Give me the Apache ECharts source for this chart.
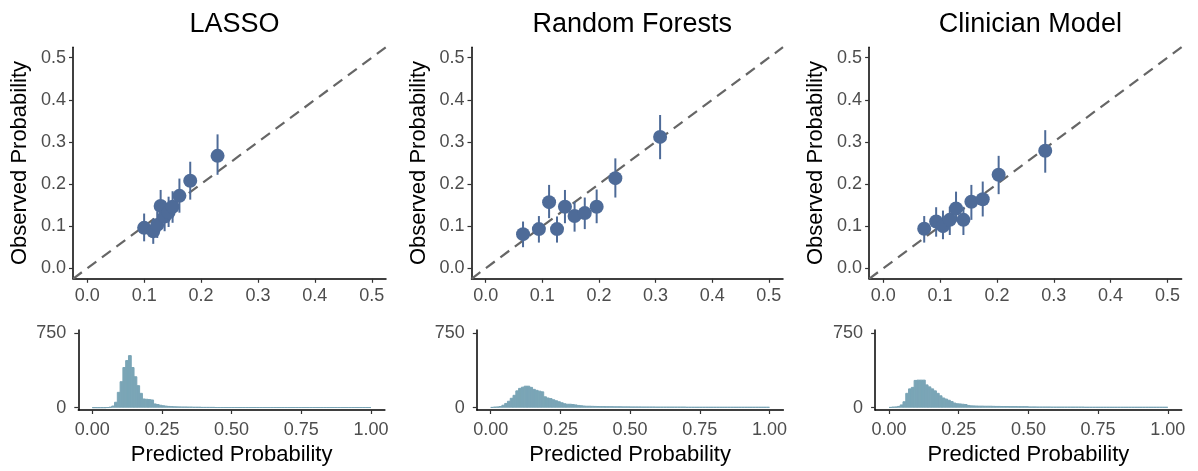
<!DOCTYPE html>
<html>
<head>
<meta charset="utf-8">
<script src="https://cdn.jsdelivr.net/npm/echarts@6/dist/echarts.min.js"></script>
<style>
html,body{margin:0;padding:0;background:#fff;}
#chart{width:1198px;height:471px;}
</style>
</head>
<body>
<div id="chart"></div>
<script>
// ---------- DATA ----------
const modelNames = ['LASSO', 'Random Forests', 'Clinician Model'];

// Calibration points (predicted, observed, CI low, CI high)
const lassoPred = [0.100, 0.116, 0.123, 0.129, 0.136, 0.143, 0.150, 0.162, 0.181, 0.229];
const lassoObs  = [0.096, 0.088, 0.103, 0.148, 0.123, 0.133, 0.146, 0.172, 0.208, 0.267];
const lassoLo   = [0.064, 0.058, 0.072, 0.110, 0.088, 0.098, 0.108, 0.132, 0.163, 0.222];
const lassoHi   = [0.130, 0.118, 0.135, 0.186, 0.160, 0.170, 0.183, 0.213, 0.253, 0.318];

const rfPred = [0.066, 0.094, 0.112, 0.126, 0.140, 0.157, 0.175, 0.196, 0.229, 0.308];
const rfObs  = [0.081, 0.093, 0.157, 0.093, 0.146, 0.124, 0.131, 0.146, 0.214, 0.312];
const rfLo   = [0.050, 0.061, 0.119, 0.061, 0.107, 0.087, 0.093, 0.107, 0.168, 0.259];
const rfHi   = [0.111, 0.124, 0.198, 0.123, 0.186, 0.158, 0.168, 0.187, 0.261, 0.364];

const clinPred = [0.072, 0.093, 0.105, 0.117, 0.128, 0.141, 0.155, 0.175, 0.203, 0.285];
const clinObs  = [0.094, 0.111, 0.100, 0.115, 0.142, 0.115, 0.158, 0.164, 0.222, 0.279];
const clinLo   = [0.061, 0.075, 0.069, 0.079, 0.111, 0.079, 0.115, 0.123, 0.176, 0.227];
const clinHi   = [0.124, 0.145, 0.137, 0.146, 0.182, 0.146, 0.198, 0.206, 0.267, 0.328];

// Histogram of predicted probabilities: 100 bins of width 0.01 on [0, 1]
const binWidth = 0.01;
const lassoCounts = [
  6, 6, 6, 6, 6, 7, 9, 22, 60, 160,
  267, 410, 480, 530, 410, 317, 227, 150, 93, 90,
  87, 83, 43, 37, 30, 25, 21, 18, 16, 14,
  13, 12, 11, 11, 10, 10, 9, 9, 9, 8,
  8, 8, 8, 8, 7, 7, 7, 7, 7, 7,
  7, 7, 7, 7, 7, 7, 7, 7, 7, 7,
  7, 7, 7, 7, 7, 7, 7, 7, 7, 7,
  7, 7, 7, 7, 7, 7, 7, 7, 7, 7,
  7, 7, 7, 7, 7, 7, 7, 7, 7, 7,
  7, 7, 7, 7, 7, 7, 7, 7, 7, 7
];
const rfCounts = [
  8, 10, 12, 17, 30, 48, 70, 100, 130, 175,
  200, 212, 222, 222, 210, 190, 180, 172, 165, 115,
  103, 97, 85, 75, 65, 55, 45, 40, 40, 37,
  33, 28, 25, 22, 20, 20, 19, 18, 17, 16,
  16, 15, 15, 15, 14, 14, 14, 13, 13, 13,
  12, 12, 12, 12, 11, 11, 11, 11, 11, 10,
  10, 10, 10, 10, 10, 10, 10, 10, 10, 10,
  9, 9, 9, 9, 9, 9, 9, 9, 9, 9,
  9, 9, 9, 9, 9, 9, 9, 9, 9, 9,
  9, 9, 9, 9, 9, 9, 9, 9, 9, 9
];
const clinCounts = [
  8, 10, 12, 18, 33, 65, 150, 195, 210, 280,
  283, 283, 283, 235, 215, 195, 175, 150, 125, 103,
  92, 80, 67, 52, 45, 43, 40, 37, 28, 24,
  23, 22, 21, 21, 20, 20, 20, 19, 18, 18,
  17, 17, 17, 16, 16, 16, 15, 15, 15, 15,
  12, 12, 12, 11, 11, 11, 11, 11, 10, 10,
  10, 10, 10, 10, 10, 10, 10, 10, 10, 10,
  9, 9, 9, 9, 9, 9, 9, 9, 9, 9,
  9, 9, 9, 9, 9, 9, 9, 9, 9, 9,
  9, 9, 9, 9, 9, 9, 9, 9, 9, 9
];

const scatterTicks = [0, 0.1, 0.2, 0.3, 0.4, 0.5];
const histXTicks = [0, 0.25, 0.5, 0.75, 1.0];
const histYTicks = [0, 750];

// ---------- STYLE / LAYOUT ----------
const FONT = 'Liberation Sans, Arial, Helvetica, sans-serif';
const pointColor = '#4E6B98';
const histColor = '#7AA5B6';
const tickText = '#4D4D4D';

const scatterGrids = [
  {left: 73, top: 47.2, width: 313, height: 231.6},
  {left: 471.5, top: 47.2, width: 311.5, height: 231.6},
  {left: 869.1, top: 47.2, width: 312.5, height: 231.6}
];
const histGrids = [
  {left: 78.3, top: 330, width: 306.6, height: 80},
  {left: 476.8, top: 330, width: 306.6, height: 80},
  {left: 875.1, top: 330, width: 306.6, height: 80}
];

const models = [
  {pred: lassoPred, obs: lassoObs, lo: lassoLo, hi: lassoHi, counts: lassoCounts},
  {pred: rfPred, obs: rfObs, lo: rfLo, hi: rfHi, counts: rfCounts},
  {pred: clinPred, obs: clinObs, lo: clinLo, hi: clinHi, counts: clinCounts}
];

const grid = [], xAxis = [], yAxis = [], series = [], title = [];

function axisBase() {
  return {
    axisLine: {show: true, onZero: false, lineStyle: {color: '#000', width: 1.5}},
    axisTick: {show: true, length: 4, lineStyle: {color: '#333', width: 1.2}},
    splitLine: {show: false},
    axisLabel: {color: tickText, fontSize: 18, fontFamily: FONT}
  };
}

models.forEach((m, i) => {
  const gS = i * 2, gH = i * 2 + 1;
  grid.push(Object.assign({containLabel: false}, scatterGrids[i]));
  grid.push(Object.assign({containLabel: false}, histGrids[i]));

  const sg = scatterGrids[i];
  title.push({
    text: modelNames[i], left: sg.left + sg.width / 2, top: 6, textAlign: 'center',
    textStyle: {fontSize: 27, fontWeight: 'normal', color: '#000', fontFamily: FONT}
  });

  // scatter x
  const sx = axisBase();
  Object.assign(sx, {type: 'value', gridIndex: gS, min: -0.025, max: 0.525});
  sx.axisTick.customValues = scatterTicks;
  sx.axisLabel.customValues = scatterTicks;
  sx.axisLabel.margin = 8;
  sx.axisLabel.formatter = v => v.toFixed(1);
  xAxis.push(sx);
  // hist x
  const hx = axisBase();
  Object.assign(hx, {type: 'value', gridIndex: gH, min: -0.05, max: 1.05,
    name: 'Predicted Probability', nameLocation: 'middle', nameGap: 34,
    nameTextStyle: {fontSize: 22, color: '#000', fontFamily: FONT}});
  hx.axisTick.customValues = histXTicks;
  hx.axisLabel.customValues = histXTicks;
  hx.axisLabel.margin = 11;
  hx.axisLabel.formatter = v => v.toFixed(2);
  xAxis.push(hx);

  // scatter y
  const sy = axisBase();
  Object.assign(sy, {type: 'value', gridIndex: gS, min: -0.025, max: 0.525,
    name: 'Observed Probability', nameLocation: 'middle', nameGap: 42, nameRotate: 90,
    nameTextStyle: {fontSize: 22, color: '#000', fontFamily: FONT}});
  sy.axisTick.customValues = scatterTicks;
  sy.axisLabel.customValues = scatterTicks;
  sy.axisLabel.margin = 7;
  sy.axisLabel.formatter = v => v.toFixed(1);
  yAxis.push(sy);
  // hist y
  const hy = axisBase();
  Object.assign(hy, {type: 'value', gridIndex: gH, min: -23, max: 783});
  hy.axisTick.customValues = histYTicks;
  hy.axisLabel.customValues = histYTicks;
  hy.axisLabel.margin = 12;
  hy.axisLabel.formatter = v => String(Math.round(v));
  yAxis.push(hy);

  // reference diagonal
  series.push({
    type: 'line', xAxisIndex: gS, yAxisIndex: gS, symbol: 'none', silent: true,
    data: [[-0.025, -0.025], [0.525, 0.525]],
    lineStyle: {color: '#666', width: 2.2, type: [11, 7]}, z: 1
  });
  // error bars
  series.push({
    type: 'custom', xAxisIndex: gS, yAxisIndex: gS, z: 2,
    data: m.pred.map((x, k) => [x, m.lo[k], m.hi[k]]),
    renderItem: (params, api) => {
      const a = api.coord([api.value(0), api.value(1)]);
      const b = api.coord([api.value(0), api.value(2)]);
      return {type: 'line', shape: {x1: a[0], y1: a[1], x2: b[0], y2: b[1]},
        style: {stroke: pointColor, lineWidth: 2}};
    }
  });
  // points
  series.push({
    type: 'scatter', xAxisIndex: gS, yAxisIndex: gS, z: 3,
    symbolSize: 14, itemStyle: {color: pointColor, opacity: 1},
    data: m.pred.map((x, k) => [x, m.obs[k]])
  });
  // histogram
  series.push({
    type: 'custom', xAxisIndex: gH, yAxisIndex: gH, z: 2,
    data: m.counts.map((c, k) => [k * binWidth, (k + 1) * binWidth, c]),
    renderItem: (params, api) => {
      const p0 = api.coord([api.value(0), api.value(2)]);
      const p1 = api.coord([api.value(1), 0]);
      return {type: 'rect',
        shape: {x: p0[0], y: p0[1] + 0.5, width: p1[0] - p0[0], height: Math.max(0, p1[1] - p0[1] - 1)},
        style: {fill: histColor, stroke: histColor, lineWidth: 1}};
    }
  });
});

const chart = echarts.init(document.getElementById('chart'), null, {renderer: 'canvas'});
chart.setOption({
  animation: false,
  backgroundColor: '#fff',
  textStyle: {fontFamily: FONT},
  title, grid, xAxis, yAxis, series
});
</script>
</body>
</html>
